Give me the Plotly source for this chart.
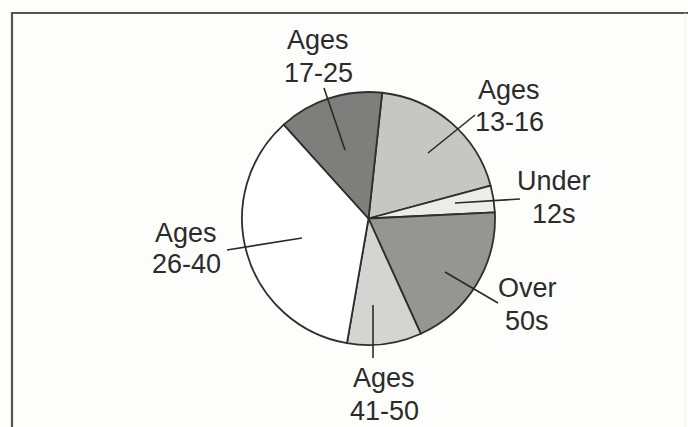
import plotly.graph_objects as go

# Data (clockwise from the top, starting with "Ages 13-16")
labels = ["Ages<br>13-16", "Under<br>12s", "Over<br>50s", "Ages<br>41-50", "Ages<br>26-40", "Ages<br>17-25"]
shares = [19.1, 3.4, 19.0, 9.5, 35.6, 13.4]
colors = ["#c6c6c4", "#ececea", "#959593", "#d4d4d2", "#ffffff", "#7e7e7c"]

W, H = 688, 427
cx, cy, r = 368.5, 218.5, 126.5

# label text centres (px) and leader lines (px)
label_pos = [(509, 90, 122), (554, 181, 214), (527, 288, 321), (384, 378, 411), (186, 233, 264), (318, 40, 73)]
leaders = [((475, 115), (428, 153)), ((520, 199), (455, 203)), ((498, 303), (445, 272)),
           ((373, 358), (373, 305)), ((227, 250), (302, 238)), ((324, 88), (345, 150))]

def px(x):
    return x / W

def py(y):
    return 1 - y / H

fig = go.Figure(go.Pie(
    labels=[l.replace("<br>", " ") for l in labels],
    values=shares,
    sort=False,
    direction="clockwise",
    rotation=6.2,
    textinfo="none",
    hoverinfo="label+percent",
    marker=dict(colors=colors, line=dict(color="#2e2e2e", width=1.8)),
    domain=dict(x=[px(cx - r), px(cx + r)], y=[py(cy + r), py(cy - r)]),
    showlegend=False,
))

shapes = []
for (p0, p1) in leaders:
    shapes.append(dict(type="line", xref="paper", yref="paper",
                       x0=px(p0[0]), y0=py(p0[1]), x1=px(p1[0]), y1=py(p1[1]),
                       line=dict(color="#2a2a2a", width=1.6)))
# frame
shapes.append(dict(type="line", xref="paper", yref="paper", x0=px(11), y0=py(13), x1=1, y1=py(13),
                   line=dict(color="#555555", width=2.2)))
shapes.append(dict(type="line", xref="paper", yref="paper", x0=px(12), y0=py(12), x1=px(12), y1=0,
                   line=dict(color="#555555", width=2.2)))
shapes.append(dict(type="line", xref="paper", yref="paper", x0=px(685), y0=py(13), x1=px(685), y1=0,
                   line=dict(color="#ececec", width=1)))

annotations = []
for lab, (x, y1, y2) in zip(labels, label_pos):
    l1, l2 = lab.split("<br>")
    for t, y in ((l1, y1), (l2, y2)):
        annotations.append(dict(text=t, x=px(x), y=py(y), xref="paper", yref="paper",
                                showarrow=False, xanchor="center", yanchor="middle",
                                font=dict(family="Liberation Sans, Arial, sans-serif", size=27, color="#2b2b2b")))

fig.update_layout(
    width=W, height=H,
    margin=dict(l=0, r=0, t=0, b=0),
    paper_bgcolor="#fdfdfb",
    plot_bgcolor="#fdfdfb",
    shapes=shapes,
    annotations=annotations,
)

fig.write_html("out.html")
